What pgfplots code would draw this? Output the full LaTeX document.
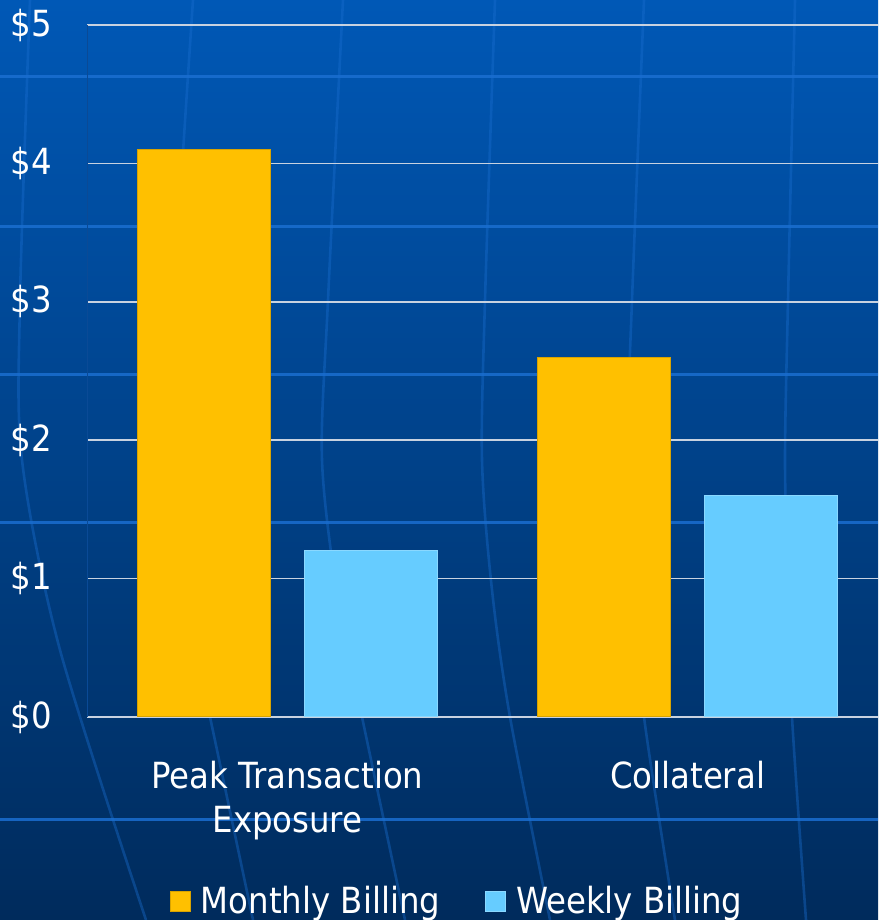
\documentclass[border=0pt]{standalone}
\usepackage{fontspec}
\setmainfont{DejaVu Sans Condensed}
\usepackage{pgfplots}
\pgfplotsset{compat=1.18}
\definecolor{gold}{HTML}{FFC000}
\definecolor{goldedge}{HTML}{D9A300}
\definecolor{lblue}{HTML}{66CCFF}
\definecolor{lblueedge}{HTML}{8AD8FF}
\definecolor{bgtop}{HTML}{0058B6}
\definecolor{bgbot}{HTML}{002B5C}
\definecolor{deco}{HTML}{1A6ED0}
\definecolor{gridc}{HTML}{C8D2E0}
\definecolor{yline}{HTML}{0A4A96}
\begin{document}
\begin{tikzpicture}[x=0.5pt,y=0.5pt]
\shade[top color=bgtop,bottom color=bgbot] (0,0) rectangle (878,920);
\begin{scope}[deco,opacity=0.4,line width=1.3pt]
\draw plot[smooth] coordinates {(30,920) (20,620) (22,460) (60,270) (146,0)};
\draw plot[smooth] coordinates {(193,920) (174,620) (170,460) (185,320) (210,203) (253,0)};
\draw plot[smooth] coordinates {(343,920) (328,620) (322,460) (338,320) (362,203) (405,0)};
\draw plot[smooth] coordinates {(495,920) (485,620) (482,460) (492,330) (510,203) (550,0)};
\draw plot[smooth] coordinates {(644,920) (632,620) (627,460) (633,330) (644,203) (675,0)};
\draw plot[smooth] coordinates {(795,920) (788,620) (785,460) (788,330) (792,203) (806,0)};
\end{scope}
\foreach \yy in {843,693,545,397,100} \draw[deco,opacity=0.85,line width=1.5pt] (0,\yy) -- (878,\yy);
\begin{axis}[
  at={(43.75pt,101.5pt)}, anchor=south west,
  scale only axis, width=395.25pt, height=346pt,
  xmin=-0.5, xmax=1.476, ymin=0, ymax=5,
  ybar=17pt, bar width=66.5pt,
  axis x line=bottom, axis y line=left,
  x axis line style={gridc, line width=1pt, -},
  y axis line style={yline, line width=0.75pt, -},
  major tick length=0pt,
  ymajorgrids, grid style={gridc, line width=0.75pt},
  ytick={0,1,2,3,4,5},
  yticklabels={\$0,\$1,\$2,\$3,\$4,\$5},
  xtick={0,1},
  xticklabels={{Peak Transaction\\Exposure},{Collateral}},
  tick label style={font=\fontsize{18}{22}\selectfont, text=white},
  yticklabel style={anchor=east, inner sep=0pt, xshift=-17.5pt},
  xticklabel style={align=center, anchor=north, inner sep=0pt, yshift=-22pt},
  legend columns=2,
  legend style={draw=none, fill=none, text=white, font=\fontsize{18}{22}\selectfont,
    at={(0.469,-0.266)}, anchor=center,
    /tikz/every odd column/.append style={column sep=3pt},
    /tikz/every even column/.append style={column sep=20.5pt}},
  legend image code/.code={\draw[#1] (0pt,-5pt) rectangle (10pt,5pt);},
]
\addplot[fill=gold, draw=goldedge, line width=0.5pt] coordinates {(0,4.1) (1,2.6)};
\addplot[fill=lblue, draw=lblueedge, line width=0.5pt] coordinates {(0,1.2) (1,1.6)};
\legend{Monthly Billing, Weekly Billing}
\end{axis}
\pgfresetboundingbox
\path[use as bounding box] (0,0) rectangle (878,920);
\end{tikzpicture}
\end{document}
